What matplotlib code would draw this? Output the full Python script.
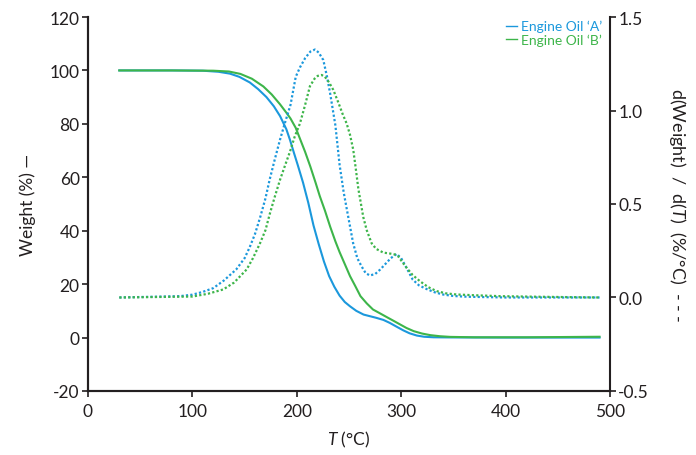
import matplotlib
matplotlib.use("Agg")
import matplotlib.pyplot as plt
from matplotlib.ticker import FormatStrFormatter, MultipleLocator


BLUE = "#1b98dc"
GREEN = "#3db54a"
INK = "#231f20"

# Engine oil 'A': weight (%) and derivative (%/°C) against temperature (°C)
temp_a_weight = [30, 80, 110, 125, 136, 145, 155, 163, 171, 178, 184, 190, 193.5, 197, 201,
                 206, 211, 216, 221, 226, 231, 236, 241, 246, 251, 257, 264, 270, 276, 283,
                 289, 295, 302, 308, 315, 322, 331, 345, 400, 490]
weight_a = [100, 100, 99.9, 99.5, 98.8, 97.6, 95.5, 93.0, 90.0, 86.6, 82.9, 78.0, 74.0, 69.5, 64.5,
            58.0, 50.5, 42.0, 35.0, 28.5, 23.0, 19.0, 15.7, 13.3, 11.7, 10.0, 8.6, 8.0, 7.4, 6.6,
            5.5, 4.2, 2.7, 1.6, 0.75, 0.3, 0.1, 0.05, 0.0, 0.0]

temp_a_deriv = [30, 88, 100, 110, 120, 130, 142, 150, 155, 160, 165, 170, 174, 179, 184, 189,
                194, 199, 203, 208, 213, 217.4, 221, 225.4, 229, 232, 237, 241, 245, 248, 251,
                254, 258, 262, 266, 270, 275, 280, 285, 290, 295.7, 300, 305, 311, 317, 324,
                332, 340, 350, 363, 400, 490]
deriv_a = [0.0, 0.007, 0.015, 0.03, 0.05, 0.09, 0.15, 0.21, 0.27, 0.34, 0.43, 0.53, 0.63, 0.74,
           0.845, 0.94, 1.03, 1.18, 1.23, 1.28, 1.315, 1.326, 1.31, 1.27, 1.18, 1.09, 0.92, 0.71,
           0.56, 0.47, 0.38, 0.29, 0.21, 0.167, 0.13, 0.118, 0.125, 0.15, 0.18, 0.21, 0.233,
           0.21, 0.16, 0.096, 0.065, 0.046, 0.028, 0.016, 0.008, 0.004, 0.0, 0.0]

# Engine oil 'B'
temp_b_weight = [30, 80, 120, 135, 146, 157, 168, 176, 184, 190, 194, 199, 203, 208, 213, 218,
                 222, 227, 232, 237, 241, 246, 251, 256, 261, 267, 273, 280, 286, 293, 299, 305,
                 312, 320, 328, 337, 347, 370, 420, 490]
weight_b = [100, 100, 99.9, 99.6, 98.7, 96.9, 94.0, 91.0, 87.3, 84.2, 82.0, 78.5, 74.5, 69.5,
            64.0, 58.0, 53.0, 47.5, 41.5, 36.0, 32.0, 27.5, 23.0, 19.3, 15.5, 12.8, 10.5, 9.0,
            7.7, 6.2, 4.9, 3.6, 2.4, 1.5, 0.9, 0.5, 0.25, 0.1, 0.1, 0.3]

temp_b_deriv = [30, 100, 115, 129.6, 140, 152, 158, 164.8, 170, 174.3, 179, 184, 189, 193.5,
                198, 203, 208, 212.6, 217, 220, 223.8, 227, 231, 235, 240, 244, 247.8, 251,
                254.1, 256.5, 259, 261.5, 263.7, 267, 271.7, 276, 282.9, 289.3, 294, 297.2,
                301, 305.2, 311, 318, 326, 334, 343, 353, 370, 395, 430, 490]
deriv_b = [0.0, 0.005, 0.02, 0.043, 0.08, 0.15, 0.21, 0.29, 0.36, 0.45, 0.54, 0.63, 0.71, 0.78,
           0.86, 0.93, 1.03, 1.13, 1.17, 1.185, 1.19, 1.18, 1.15, 1.11, 1.04, 0.98, 0.93, 0.87,
           0.79, 0.69, 0.58, 0.5, 0.43, 0.36, 0.29, 0.26, 0.24, 0.235, 0.23, 0.22, 0.19, 0.159,
           0.12, 0.087, 0.055, 0.034, 0.022, 0.016, 0.012, 0.007, 0.004, 0.0]

plt.rcParams["font.family"] = ["Lato", "DejaVu Sans"]
plt.rcParams["axes.unicode_minus"] = False
plt.rcParams["mathtext.fontset"] = "custom"
plt.rcParams["mathtext.rm"] = "Lato"
plt.rcParams["mathtext.it"] = "Lato:italic"

fig = plt.figure(figsize=(6.96, 4.56), dpi=100)
ax = fig.add_axes([0.1264, 0.1404, 0.75, 0.8201])
ax2 = ax.twinx()

ax.plot(temp_a_weight, weight_a, color=BLUE, lw=1.5, label="Engine Oil ‘A’")
ax.plot(temp_b_weight, weight_b, color=GREEN, lw=1.5, label="Engine Oil ‘B’")
ax2.plot(temp_a_deriv, deriv_a, color=BLUE, lw=1.6, linestyle=(0, (1, 1)))
ax2.plot(temp_b_deriv, deriv_b, color=GREEN, lw=1.6, linestyle=(0, (1, 1)))

ax.set_xlim(0, 500)
ax.set_ylim(-20, 120)
ax2.set_ylim(-0.5, 1.5)
ax.xaxis.set_major_locator(MultipleLocator(100))
ax.yaxis.set_major_locator(MultipleLocator(20))
ax2.yaxis.set_major_locator(MultipleLocator(0.5))
ax2.yaxis.set_major_formatter(FormatStrFormatter("%.1f"))

for a in (ax, ax2):
    a.spines["top"].set_visible(False)
    for side in ("left", "right", "bottom"):
        a.spines[side].set_color(INK)
        a.spines[side].set_linewidth(1.5)
    a.tick_params(direction="out", length=4, width=1.2, color=INK,
                  labelsize=12.5, labelcolor=INK, pad=2)
ax.tick_params(axis="x", pad=5)
ax.spines["right"].set_visible(False)

ax.set_xlabel(r"$\it{T}$ (°C)", fontsize=12.5, color=INK, labelpad=7)
ax.set_ylabel("Weight (%) —", fontsize=12.5, color=INK, labelpad=10)
ax2.set_ylabel(r"d(Weight)  /  d($\it{T}$)  (%/°C)  - - -", fontsize=13, color=INK,
               rotation=270, labelpad=28)

leg = ax.legend(loc="upper right", bbox_to_anchor=(0.985, 0.992), frameon=False,
                borderaxespad=0, borderpad=0, handlelength=0.75, handletextpad=0.3,
                labelspacing=0.1, fontsize=10, labelcolor="linecolor")
for line in leg.get_lines():
    line.set_linewidth(1.0)

fig.savefig("out.png", dpi=100)
